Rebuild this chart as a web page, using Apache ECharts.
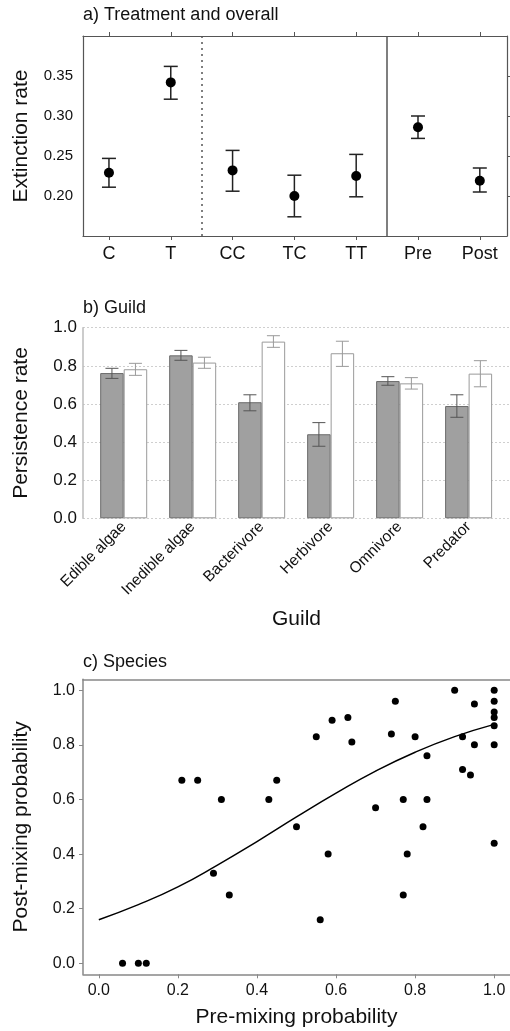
<!DOCTYPE html>
<html><head><meta charset="utf-8">
<script src="https://cdn.jsdelivr.net/npm/echarts@6/dist/echarts.min.js"></script>
<style>html,body{margin:0;padding:0;background:#fff}#c{width:510px;height:1031px}</style>
</head><body><div id="c"></div>
<script>
// ---- Panel a: treatment and overall ----
const treatCategories = ['C', 'T', 'CC', 'TC', 'TT', 'Pre', 'Post'];
const treatMean = [0.229, 0.342, 0.232, 0.200, 0.225, 0.286, 0.219];
const treatLow  = [0.211, 0.321, 0.206, 0.174, 0.199, 0.272, 0.205];
const treatHigh = [0.247, 0.362, 0.257, 0.226, 0.252, 0.300, 0.235];
const treatTicks = [0.20, 0.25, 0.30, 0.35];
const dividerDotted = 2.5;
const dividerSolid = 5.5;

// ---- Panel b: guild ----
const guilds = ['Edible algae', 'Inedible algae', 'Bacterivore', 'Herbivore', 'Omnivore', 'Predator'];
const preRate  = [0.762, 0.855, 0.609, 0.441, 0.720, 0.589];
const preLow   = [0.734, 0.829, 0.564, 0.378, 0.698, 0.530];
const preHigh  = [0.787, 0.881, 0.648, 0.502, 0.743, 0.648];
const postRate = [0.782, 0.817, 0.927, 0.866, 0.708, 0.759];
const postLow  = [0.750, 0.787, 0.897, 0.797, 0.678, 0.690];
const postHigh = [0.813, 0.845, 0.958, 0.929, 0.738, 0.827];

// ---- Panel c: species ----
const preMixing = [0.21, 0.25, 0.31, 0.43, 0.45, 0.90, 1.00, 0.75, 0.95, 1.00, 1.00, 1.00, 1.00,
  0.59, 0.63, 0.55, 0.64, 0.74, 0.80, 0.92, 0.95, 1.00, 0.83, 0.92, 0.94, 0.77, 0.83, 0.70,
  0.50, 0.82, 1.00, 0.58, 0.78, 0.29, 0.33, 0.56, 0.77, 0.06, 0.10, 0.12];
const postMixing = [0.67, 0.67, 0.60, 0.60, 0.67, 1.00, 1.00, 0.96, 0.95, 0.96, 0.92, 0.90, 0.87,
  0.89, 0.90, 0.83, 0.81, 0.84, 0.83, 0.83, 0.80, 0.80, 0.76, 0.71, 0.69, 0.60, 0.60, 0.57,
  0.50, 0.50, 0.44, 0.40, 0.40, 0.33, 0.25, 0.16, 0.25, 0.00, 0.00, 0.00];
const fitX = [0.0, 0.1, 0.2, 0.3, 0.4, 0.5, 0.6, 0.7, 0.8, 0.9, 1.0];
const fitY = [0.160, 0.215, 0.280, 0.360, 0.446, 0.536, 0.623, 0.704, 0.773, 0.830, 0.875];
const probTicks = [0, 0.2, 0.4, 0.6, 0.8, 1.0];

const FONT = '"Liberation Sans", Arial, sans-serif';
const chart = echarts.init(document.getElementById('c'), null, {renderer: 'canvas'});

function errRender(half, dx, color, width) {
  return function (params, api) {
    const x = api.value(0);
    const lo = api.coord([x, api.value(1)]);
    const hi = api.coord([x, api.value(2)]);
    const cx = lo[0] + dx;
    const st = {stroke: color, lineWidth: width};
    return {type: 'group', children: [
      {type: 'line', shape: {x1: cx, y1: lo[1], x2: cx, y2: hi[1]}, style: st},
      {type: 'line', shape: {x1: cx - half, y1: lo[1], x2: cx + half, y2: lo[1]}, style: st},
      {type: 'line', shape: {x1: cx - half, y1: hi[1], x2: cx + half, y2: hi[1]}, style: st}
    ]};
  };
}

const treatIdx = treatCategories.map((c, i) => i + 1);
const guildIdx = guilds.map((g, i) => i + 1);
const BAR_W = 23.5;
const labelBase = {fontFamily: FONT, color: '#111'};
const titleStyle = {fontSize: 18, fontWeight: 'normal', color: '#111', fontFamily: FONT};
const nameStyle = {fontSize: 21, color: '#111', fontFamily: FONT};

const option = {
  animation: false,
  backgroundColor: '#fff',
  textStyle: {fontFamily: FONT},
  title: [
    {text: 'a) Treatment and overall', left: 78, top: 1, textStyle: titleStyle},
    {text: 'b) Guild', left: 78, top: 294, textStyle: titleStyle},
    {text: 'c) Species', left: 78, top: 648, textStyle: titleStyle}
  ],
  grid: [
    {left: 83, top: 36, width: 424, height: 200},
    {left: 83, top: 327.7, width: 433.3, height: 190.6},
    {left: 83, top: 679.3, width: 428.8, height: 295}
  ],
  xAxis: [
    {gridIndex: 0, type: 'value', min: 0.58, max: 7.44, position: 'bottom',
      axisLine: {show: true, onZero: false, lineStyle: {color: '#555', width: 1.2}},
      axisTick: {show: true, customValues: treatIdx, length: 4, lineStyle: {color: '#555'}},
      axisLabel: Object.assign({customValues: treatIdx, fontSize: 18, margin: 9,
        formatter: v => treatCategories[Math.round(v) - 1]}, labelBase),
      splitLine: {show: false}},
    {gridIndex: 0, type: 'value', min: 0.58, max: 7.44, position: 'top',
      axisLine: {show: true, onZero: false, lineStyle: {color: '#555', width: 1.2}},
      axisTick: {show: true, customValues: treatIdx, length: 4, lineStyle: {color: '#555'}},
      axisLabel: {show: false}, splitLine: {show: false}},
    {gridIndex: 1, type: 'value', min: 0.41, max: 6.6,
      axisLine: {show: false}, axisTick: {show: false},
      axisLabel: Object.assign({customValues: guildIdx, fontSize: 15.5, rotate: 45, margin: 6,
        formatter: v => guilds[Math.round(v) - 1]}, labelBase),
      splitLine: {show: false},
      name: 'Guild', nameLocation: 'middle', nameGap: 90, nameTextStyle: nameStyle},
    {gridIndex: 2, type: 'value', min: -0.04, max: 1.04,
      axisLine: {show: true, onZero: false, lineStyle: {color: '#888', width: 1.5}},
      axisTick: {show: true, customValues: probTicks, length: 4, lineStyle: {color: '#888'}},
      axisLabel: Object.assign({customValues: probTicks, fontSize: 16, margin: 8,
        formatter: v => v.toFixed(1)}, labelBase),
      splitLine: {show: false},
      name: 'Pre-mixing probability', nameLocation: 'middle', nameGap: 32, nameTextStyle: nameStyle},
    {gridIndex: 2, type: 'value', min: -0.04, max: 1.04, position: 'top',
      axisLine: {show: true, onZero: false, lineStyle: {color: '#888', width: 1.5}},
      axisTick: {show: false}, axisLabel: {show: false}, splitLine: {show: false}}
  ],
  yAxis: [
    {gridIndex: 0, type: 'value', min: 0.15, max: 0.40, position: 'left',
      axisLine: {show: true, onZero: false, lineStyle: {color: '#555', width: 1.2}},
      axisTick: {show: false},
      axisLabel: Object.assign({customValues: treatTicks, fontSize: 15, margin: 10,
        formatter: v => v.toFixed(2)}, labelBase),
      splitLine: {show: false},
      name: 'Extinction rate', nameLocation: 'middle', nameGap: 51, nameTextStyle: nameStyle},
    {gridIndex: 0, type: 'value', min: 0.15, max: 0.40, position: 'right',
      axisLine: {show: true, onZero: false, lineStyle: {color: '#555', width: 1.2}},
      axisTick: {show: true, customValues: treatTicks, length: 4, lineStyle: {color: '#555'}},
      axisLabel: {show: false}, splitLine: {show: false}},
    {gridIndex: 1, type: 'value', min: 0, max: 1, interval: 0.2,
      axisLine: {show: true, lineStyle: {color: '#bbb', width: 1.5}},
      axisTick: {show: false},
      axisLabel: Object.assign({fontSize: 17, margin: 6, formatter: v => v.toFixed(1)}, labelBase),
      splitLine: {show: true, lineStyle: {color: '#cfcfcf', type: [2, 2], width: 1}},
      name: 'Persistence rate', nameLocation: 'middle', nameGap: 51, nameTextStyle: nameStyle},
    {gridIndex: 2, type: 'value', min: -0.04, max: 1.04,
      axisLine: {show: true, onZero: false, lineStyle: {color: '#888', width: 1.5}},
      axisTick: {show: true, customValues: probTicks, length: 4, lineStyle: {color: '#888'}},
      axisLabel: Object.assign({customValues: probTicks, fontSize: 16, margin: 8,
        formatter: v => v.toFixed(1)}, labelBase),
      splitLine: {show: false},
      name: 'Post-mixing probability', nameLocation: 'middle', nameGap: 51, nameTextStyle: nameStyle}
  ],
  series: [
    // panel a
    {type: 'custom', xAxisIndex: 0, yAxisIndex: 0, z: 3,
      renderItem: errRender(7, 0, '#222', 1.5),
      encode: {x: 0, y: [1, 2]},
      data: treatIdx.map((x, i) => [x, treatLow[i], treatHigh[i]])},
    {type: 'scatter', xAxisIndex: 0, yAxisIndex: 0, z: 4, symbolSize: 10,
      itemStyle: {color: '#000', opacity: 1},
      data: treatIdx.map((x, i) => [x, treatMean[i]]),
      markLine: {silent: true, symbol: 'none', label: {show: false},
        data: [
          {xAxis: dividerDotted, lineStyle: {color: '#555', type: [2, 4], width: 1.5}},
          {xAxis: dividerSolid, lineStyle: {color: '#555', type: 'solid', width: 1.5}}
        ]}},
    // panel b
    {type: 'bar', name: 'Pre', xAxisIndex: 2, yAxisIndex: 2, barWidth: BAR_W, barGap: '0%', z: 2,
      itemStyle: {color: '#a0a0a0', borderColor: '#6a6a6a', borderWidth: 1},
      data: guildIdx.map((x, i) => [x, preRate[i]])},
    {type: 'bar', name: 'Post', xAxisIndex: 2, yAxisIndex: 2, barWidth: BAR_W, barGap: '0%', z: 2,
      itemStyle: {color: '#ffffff', borderColor: '#9a9a9a', borderWidth: 1},
      data: guildIdx.map((x, i) => [x, postRate[i]])},
    {type: 'custom', xAxisIndex: 2, yAxisIndex: 2, z: 5,
      renderItem: errRender(6.5, -BAR_W / 2, '#555', 1),
      encode: {x: 0, y: [1, 2]},
      data: guildIdx.map((x, i) => [x, preLow[i], preHigh[i]])},
    {type: 'custom', xAxisIndex: 2, yAxisIndex: 2, z: 5,
      renderItem: errRender(6.5, BAR_W / 2, '#9a9a9a', 1),
      encode: {x: 0, y: [1, 2]},
      data: guildIdx.map((x, i) => [x, postLow[i], postHigh[i]])},
    // panel c
    {type: 'scatter', xAxisIndex: 3, yAxisIndex: 3, symbolSize: 7,
      itemStyle: {color: '#000', opacity: 1},
      data: preMixing.map((x, i) => [x, postMixing[i]])},
    {type: 'line', xAxisIndex: 3, yAxisIndex: 3, smooth: true, showSymbol: false,
      lineStyle: {color: '#000', width: 1.5},
      data: fitX.map((x, i) => [x, fitY[i]])}
  ]
};
chart.setOption(option);
</script></body></html>
